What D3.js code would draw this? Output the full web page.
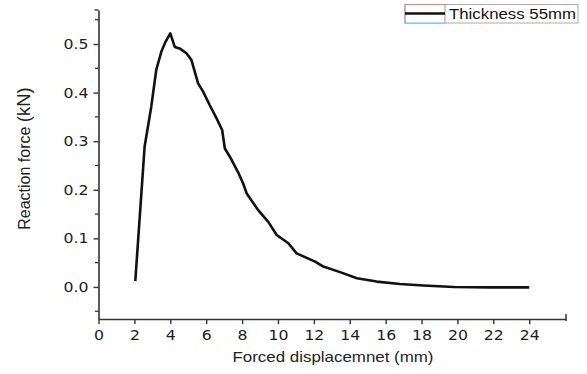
<!DOCTYPE html>
<html><head><meta charset="utf-8">
<script src="https://cdn.jsdelivr.net/npm/d3@7"></script>
<style>body{margin:0;background:#fff}</style>
</head><body>
<svg id="c" width="587" height="374"></svg>
<script>
const displacement = [2.05,2.57,2.94,3.22,3.5,3.74,4.0,4.25,4.52,4.9,5.18,5.55,5.83,6.2,6.58,6.89,7.04,7.32,7.78,8.06,8.25,8.9,9.46,9.93,10.58,11.04,12.07,12.53,13.5,14.4,15.5,16.8,18.1,19.8,21.8,24.0];
const force = [0.012,0.289,0.371,0.447,0.484,0.505,0.522,0.494,0.491,0.481,0.467,0.419,0.402,0.374,0.347,0.323,0.285,0.268,0.236,0.213,0.193,0.158,0.134,0.107,0.090,0.069,0.052,0.042,0.030,0.018,0.011,0.006,0.003,0.0,-0.001,-0.001];
const xTicks = [0,2,4,6,8,10,12,14,16,18,20,22,24];
const yTicks = [0.0,0.1,0.2,0.3,0.4,0.5];
const yMinor = [-0.05,0.05,0.15,0.25,0.35,0.45,0.55];
const seriesName = "Thickness 55mm";
const xTitle = "Forced displacemnet (mm)";

const svg = d3.select("#c");
const x = d3.scaleLinear().domain([0, 26.05]).range([98.5, 566]);
const y = d3.scaleLinear().domain([-0.066, 0.57]).range([319, 10]);
const axisColor = "#333";
const tickFont = "'DejaVu Sans', Verdana, sans-serif";
const stretch = (sel, k) => sel.each(function(){ const w = this.getComputedTextLength(); d3.select(this).attr("textLength", w*k).attr("lengthAdjust", "spacingAndGlyphs"); });

// X axis
const gx = svg.append("g").attr("transform", `translate(0,${y(-0.066)})`)
  .call(d3.axisBottom(x).tickValues(xTicks).tickFormat(d3.format("d")).tickSize(5).tickSizeOuter(0));
gx.select(".domain").attr("stroke", axisColor).attr("stroke-width", 1.6);
gx.selectAll(".tick line").attr("stroke", axisColor).attr("stroke-width", 1.4);
gx.selectAll("text").attr("font-family", tickFont).attr("font-size", 14).attr("fill", "#1c1c24").attr("dy", "0.95em").call(stretch, 1.12);
svg.append("line").attr("x1", x(26.05)).attr("x2", x(26.05)).attr("y1", y(-0.066)-5).attr("y2", y(-0.066)+2)
  .attr("stroke", axisColor).attr("stroke-width", 1.4);

// Y axis
const gy = svg.append("g").attr("transform", `translate(${x(0)},0)`)
  .call(d3.axisLeft(y).tickValues(yTicks).tickFormat(d3.format(".1f")).tickSize(5).tickSizeOuter(0));
gy.select(".domain").attr("stroke", axisColor).attr("stroke-width", 1.6);
gy.selectAll(".tick line").attr("stroke", axisColor).attr("stroke-width", 1.4);
gy.selectAll("text").attr("font-family", tickFont).attr("font-size", 14).attr("fill", "#1c1c24").attr("x", -10).call(stretch, 1.12);
svg.append("g").selectAll("line").data(yMinor).join("line")
  .attr("x1", x(0)-3.5).attr("x2", x(0)).attr("y1", d => y(d)).attr("y2", d => y(d))
  .attr("stroke", axisColor).attr("stroke-width", 1.3);
svg.append("line").attr("x1", x(0)-4).attr("x2", x(0)).attr("y1", y(0.57)).attr("y2", y(0.57))
  .attr("stroke", axisColor).attr("stroke-width", 1.4);

// Line
const pts = displacement.map((d, i) => [d, force[i]]);
svg.append("path").datum(pts)
  .attr("fill", "none").attr("stroke", "#111").attr("stroke-width", 2.6).attr("stroke-linejoin", "round")
  .attr("d", d3.line().x(d => x(d[0])).y(d => y(d[1])));

// Titles
svg.append("text").attr("x", 333).attr("y", 362).attr("text-anchor", "middle")
  .attr("font-family", "'Liberation Sans', Arial, sans-serif").attr("font-size", 15).attr("fill", "#222")
  .attr("textLength", 201).attr("lengthAdjust", "spacingAndGlyphs")
  .text(xTitle);
const yt = svg.append("text").attr("transform", "translate(30,158.5) rotate(-90)").attr("text-anchor", "middle")
  .attr("font-family", "'Liberation Sans', Arial, sans-serif").attr("fill", "#222");
yt.append("tspan").attr("font-size", 16).text("Reaction force ");
yt.append("tspan").attr("font-size", 18.5).text("(kN)");

// Legend
const lg = svg.append("g");
lg.append("rect").attr("x", 405).attr("y", 4.5).attr("width", 173).attr("height", 18.5)
  .attr("fill", "#fff").attr("stroke", "#aaa").attr("stroke-width", 1);
lg.append("rect").attr("x", 405).attr("y", 4.5).attr("width", 40).attr("height", 18.5)
  .attr("fill", "none").attr("stroke", "#c98a8a").attr("stroke-width", 1);
lg.append("line").attr("x1", 406).attr("x2", 444).attr("y1", 22.5).attr("y2", 22.5).attr("stroke", "#a8e6ee").attr("stroke-width", 1.2);
lg.append("line").attr("x1", 405).attr("x2", 445).attr("y1", 13.5).attr("y2", 13.5).attr("stroke", "#111").attr("stroke-width", 2.6);
lg.append("text").attr("x", 449).attr("y", 18.5).attr("font-family", "'Liberation Sans', Arial, sans-serif")
  .attr("font-size", 14).attr("fill", "#111").attr("textLength", 127).attr("lengthAdjust", "spacingAndGlyphs").text(seriesName);
</script>
</body></html>
